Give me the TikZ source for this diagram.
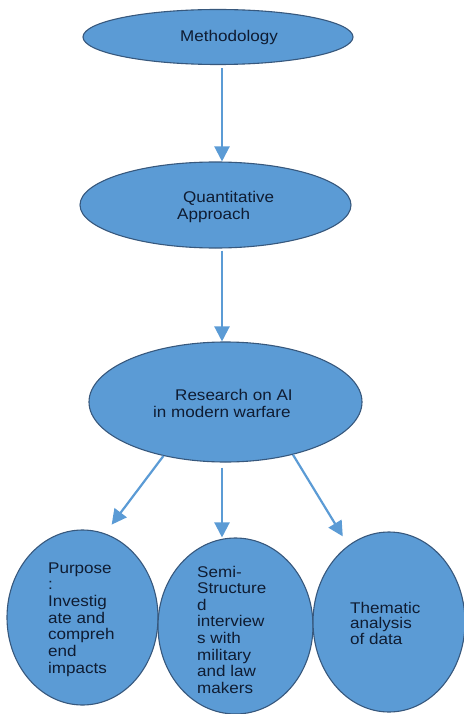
\documentclass[tikz,border=0pt]{standalone}
\usepackage{fontspec}
\setmainfont{Liberation Sans}[FakeStretch=1.1]
\usetikzlibrary{shapes.geometric,arrows.meta,positioning,calc}
\definecolor{bubble}{RGB}{91,155,213}
\definecolor{rim}{RGB}{55,88,125}
\definecolor{ink}{RGB}{15,28,50}

\begin{document}
\begin{tikzpicture}[x=1pt, y=-1pt,
    bub/.style={ellipse, draw=rim, fill=bubble, line width=1.1pt, inner sep=0pt},
    lbl/.style={anchor=base west, inner sep=0pt, text=ink, font=\fontsize{15.5}{16.7}\selectfont},
    flow/.style={draw=bubble, line width=2.2pt, -{Triangle[length=15pt, width=15pt]}}]
    \useasboundingbox (0,0) rectangle (463,714);
    \coordinate (axis) at (222,0);
    % 主干椭圆
    \node[bub, minimum width=270pt, minimum height=55pt] (meth) at (218,37) {};
    \node[bub, minimum width=271pt, minimum height=86pt] (quant) at (215.5,205) {};
    \node[bub, minimum width=273pt, minimum height=120pt] (res) at (225.5,402) {};
    % 底部三个圆
    \node[bub, minimum width=151pt, minimum height=175pt] (purp) at (82.5,617.5) {};
    \node[bub, minimum width=155pt, minimum height=176pt] (semi) at (235.5,626) {};
    \node[bub, minimum width=152pt, minimum height=180pt] (them) at (389,622) {};
    % 文字
    \node[lbl] (methtxt) at (180,42) {Methodology};
    \node[lbl] (quant1) at (183,202) {Quantitative};
    \node[lbl] (quant2) at (177,219) {Approach};
    \node[lbl] (res1) at (175,400) {Research on AI};
    \node[lbl] (res2) at (153,417) {in modern warfare};
    \foreach \t [count=\i] in {Purpose, :, Investig, ate and, compreh, end, impacts}
        \node[lbl] (p\i) at (48,{573+16.7*(\i-1)}) {\t};
    \foreach \t [count=\i] in {Semi-, Structure, d, interview, s with, military, and law, makers}
        \node[lbl] (s\i) at (197,{577+16.6*(\i-1)}) {\t};
    \foreach \t [count=\i] in {Thematic, analysis, of data}
        \node[lbl] (t\i) at (350,{613+15.7*(\i-1)}) {\t};
    % 箭头
    \draw[flow, shorten <=3pt] (meth.south -| axis) -- (quant.north -| axis);
    \draw[flow, shorten <=2pt] (quant.south -| axis) -- (res.north -| axis);
    \draw[flow, shorten <=5pt] (res.south -| axis) -- (semi.north -| axis);
    \draw[flow, shorten >=11pt] (res.221) -- (purp.75.5);
    \draw[flow, shorten >=10.5pt] (res.-38) -- (them.118.4);
\end{tikzpicture}
\end{document}
